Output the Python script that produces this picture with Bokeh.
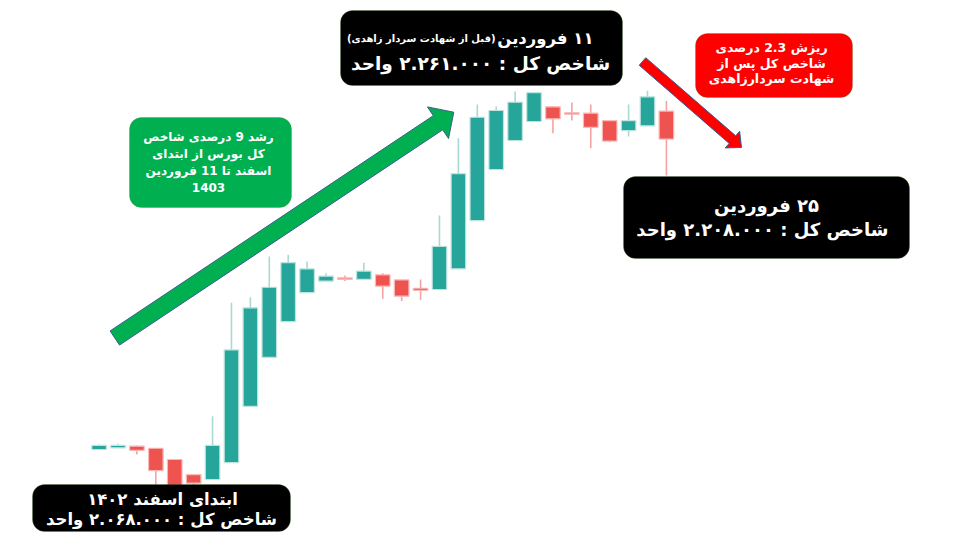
import math
from bokeh.plotting import figure
from bokeh.models import Range1d, BoxAnnotation, Label, ColumnDataSource
from bokeh.embed import file_html
from bokeh.resources import INLINE

# ---- data (index level) ----
days = list(range(1, 32))
opens = [2086.2, 2087.0, 2087.8, 2086.8, 2081.3, 2073.9, 2071.5, 2079.8, 2107.3, 2131.3,
         2148.8, 2163.1, 2168.7, 2170.3, 2169.6, 2171.8, 2169.3, 2165.2, 2164.6, 2174.7,
         2198.3, 2223.4, 2237.6, 2246.9, 2254.1, 2251.2, 2251.0, 2247.3, 2242.4, 2244.8, 2252.0]
closes = [2088.2, 2088.2, 2085.8, 2075.8, 2067.5, 2069.7, 2088.2, 2135.0, 2155.6, 2165.7,
          2177.8, 2174.7, 2171.1, 2169.6, 2173.6, 2166.2, 2161.3, 2164.2, 2185.7, 2221.3,
          2249.0, 2252.3, 2256.4, 2261.0, 2248.2, 2250.5, 2244.0, 2237.3, 2247.3, 2259.0, 2238.3]
highs = [2088.6, 2089.0, 2088.2, 2086.8, 2081.3, 2073.9, 2102.5, 2158.1, 2160.8, 2180.8,
         2181.6, 2178.3, 2172.6, 2171.4, 2177.7, 2172.6, 2169.3, 2169.5, 2200.9, 2238.7,
         2255.2, 2254.3, 2261.6, 2261.3, 2254.1, 2256.2, 2255.2, 2247.3, 2255.2, 2262.0, 2256.9]
lows = [2086.2, 2087.0, 2083.7, 2066.0, 2066.0, 2066.5, 2071.5, 2079.8, 2107.3, 2131.3,
        2148.8, 2163.1, 2168.7, 2168.7, 2169.6, 2160.0, 2158.9, 2159.5, 2164.6, 2174.7,
        2198.3, 2223.4, 2237.6, 2246.9, 2241.2, 2247.4, 2233.8, 2236.8, 2239.6, 2244.8, 2220.5]

RLE, PDF = "\u202b", "\u202c"
def rtl(s):
    return RLE + s + PDF

top_title = "۱۱ فروردین"
top_note = "(قبل از شهادت سردار زاهدی)"
top_value = "شاخص کل : ۲.۲۶۱.۰۰۰ واحد"
start_title = "ابتدای اسفند ۱۴۰۲"
start_value = "شاخص کل : ۲.۰۶۸.۰۰۰ واحد"
end_title = "۲۵ فروردین"
end_value = "شاخص کل :  ۲.۲۰۸.۰۰۰ واحد"
green_lines = ["رشد 9 درصدی شاخص", "کل بورس از ابتدای", "اسفند تا 11 فروردین", "1403"]
red_lines = ["ریزش 2.3 درصدی", "شاخص کل پس از", "شهادت سردارزاهدی"]

W, H = 959, 532
X0, DX = 98.6, 18.91   # pixel centre of first candle, spacing
YK, YS = 2306.2, 0.49  # value = YK - YS * pixel_y

def px2x(X):
    return 1 + (X - X0) / DX

def px2y(Y):
    return YK - YS * Y

p = figure(width=W, height=H, output_backend="svg", toolbar_location=None,
           x_range=Range1d(px2x(0), px2x(W)), y_range=Range1d(px2y(H), px2y(0)),
           min_border=0, background_fill_color="white", border_fill_color="white")
p.axis.visible = False
p.grid.visible = False
p.outline_line_color = None

up = [c >= o for o, c in zip(opens, closes)]
GREEN, RED = "#26A69A", "#EF5350"
src = ColumnDataSource(dict(
    x=days, o=opens, c=closes, h=highs, l=lows,
    top=[max(o, c) for o, c in zip(opens, closes)],
    bot=[min(o, c) for o, c in zip(opens, closes)],
    fill=[GREEN if u else RED for u in up],
    edge=["#BFE3DF" if u else "#F8B9B8" for u in up],
    wick=["#A9D9D3" if u else "#F5A3A2" for u in up],
))
p.segment(x0="x", x1="x", y0="l", y1="h", source=src, line_color="wick", line_width=1.6)
p.vbar(x="x", width=0.77, top="top", bottom="bot", source=src,
       fill_color="fill", line_color="edge", line_width=1.2)

# ---- arrows ----
def arrow_poly(T, P, w, L, h):
    dx, dy = P[0] - T[0], P[1] - T[1]
    ln = math.hypot(dx, dy)
    ux, uy = dx / ln, dy / ln
    nx, ny = -uy, ux
    B = (P[0] - ux * L, P[1] - uy * L)
    pts = [(T[0] + nx * w, T[1] + ny * w), (B[0] + nx * w, B[1] + ny * w),
           (B[0] + nx * h, B[1] + ny * h), P,
           (B[0] - nx * h, B[1] - ny * h), (B[0] - nx * w, B[1] - ny * w),
           (T[0] - nx * w, T[1] - ny * w)]
    return [px2x(a) for a, b in pts], [px2y(b) for a, b in pts]

gx, gy = arrow_poly((114.3, 337.5), (453.3, 111.7), 8.5, 19, 19)
p.patch(gx, gy, fill_color="#00B050", line_color="#3A5F8F", line_width=1)
rx, ry = arrow_poly((642.0, 61.0), (741.0, 147.0), 5.0, 12, 11)
p.patch(rx, ry, fill_color="#FF0000", line_color="#3A5F8F", line_width=1)

# ---- boxes ----
def box(l, r, t, b, color, radius=12):
    p.add_layout(BoxAnnotation(left=px2x(l), right=px2x(r), top=px2y(t), bottom=px2y(b),
                               fill_color=color, fill_alpha=1.0, line_color="#4E7A35",
                               line_width=1, border_radius=radius))

def label(X, Y, s, size, align="center"):
    p.add_layout(Label(x=px2x(X), y=px2y(Y), text=rtl(s), text_align=align,
                       text_baseline="middle", text_color="white", text_font="DejaVu Sans",
                       text_font_style="bold", text_font_size=f"{size}px"))

box(340, 622, 10, 85, "black")
label(593, 38, top_title, 16.5, "right")
label(495, 38, top_note, 10, "right")
label(480, 63, top_value, 18.5)

box(32, 290, 484, 531, "black")
label(162, 499, start_title, 16.5)
label(161, 519, start_value, 16.5)

box(623, 909, 176, 258, "black")
label(766, 205, end_title, 18)
label(765, 229, end_value, 18)

box(129, 291, 117, 207, "#00B050")
for i, s in enumerate(green_lines):
    label(208, 136 + 17 * i, s, 12)

box(695, 852, 33, 97, "#FF0000")
for i, s in enumerate(red_lines):
    label(771, 47 + 15.5 * i, s, 12.5)

open("out.html", "w").write(file_html(p, INLINE))
